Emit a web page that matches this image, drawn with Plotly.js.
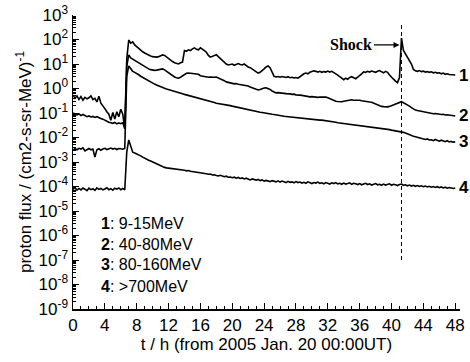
<!DOCTYPE html>
<html>
<head>
<meta charset="utf-8">
<script src="https://cdn.plot.ly/plotly-3.0.1.min.js"></script>
<style>html,body{margin:0;padding:0;background:#fff}#chart{width:470px;height:362px}</style>
</head>
<body>
<div id="chart"></div>
<script>
// time in hours from 2005 Jan. 20 00:00 UT (quarter-hour samples)
const hours = [
0,0.25,0.5,0.75,1,1.25,1.5,1.75,2,2.25,2.5,2.75,3,3.25,3.5,3.75,4,4.25,4.5,4.75,
5,5.25,5.5,5.75,6,6.25,6.5,6.75,7,7.25,7.5,7.75,8,8.25,8.5,8.75,9,9.25,9.5,9.75,
10,10.25,10.5,10.75,11,11.25,11.5,11.75,12,12.25,12.5,12.75,13,13.25,13.5,13.75,14,14.25,14.5,14.75,
15,15.25,15.5,15.75,16,16.25,16.5,16.75,17,17.25,17.5,17.75,18,18.25,18.5,18.75,19,19.25,19.5,19.75,
20,20.25,20.5,20.75,21,21.25,21.5,21.75,22,22.25,22.5,22.75,23,23.25,23.5,23.75,24,24.25,24.5,24.75,
25,25.25,25.5,25.75,26,26.25,26.5,26.75,27,27.25,27.5,27.75,28,28.25,28.5,28.75,29,29.25,29.5,29.75,
30,30.25,30.5,30.75,31,31.25,31.5,31.75,32,32.25,32.5,32.75,33,33.25,33.5,33.75,34,34.25,34.5,34.75,
35,35.25,35.5,35.75,36,36.25,36.5,36.75,37,37.25,37.5,37.75,38,38.25,38.5,38.75,39,39.25,39.5,39.75,
40,40.25,40.5,40.75,41,41.25,41.5,41.75,42,42.25,42.5,42.75,43,43.25,43.5,43.75,44,44.25,44.5,44.75,
45,45.25,45.5,45.75,46,46.25,46.5,46.75,47,47.25,47.5,47.75,48];

// log10 of proton flux, (cm2-s-sr-MeV)^-1
const log1_9to15MeV = [
-0.27,-0.40,-0.30,-0.45, -0.33,-0.48,-0.36,-0.42, -0.38,-0.30,-0.45,-0.40, -0.55,-0.32,-0.60,-0.70,
-0.82,-0.95,-1.05,-1.30, -0.98,-1.25,-0.95,-1.15, -0.85,-1.05,-1.65,1.20, 1.98,1.85,1.90,1.78,
1.70,1.62,1.55,1.50, 1.45,1.40,1.38,1.33, 1.30,1.28,1.28,1.30, 1.32,1.37,1.35,1.28,
1.22,1.15,1.10,1.05, 1.02,1.00,1.05,1.08, 1.55,1.52,1.58,1.55, 1.62,1.66,1.60,1.58,
1.66,1.62,1.55,1.48, 1.35,1.28,1.32,1.36, 1.38,1.30,1.22,1.12, 1.05,1.00,0.96,0.98,
1.00,0.95,0.97,1.02, 0.98,0.96,1.00,0.92, 0.88,0.85,0.80,0.74, 0.68,0.63,0.66,0.72,
0.80,0.88,0.92,0.85, 0.70,0.50,0.47,0.49, 0.46,0.49,0.47,0.45, 0.48,0.44,0.46,0.43,
0.45,0.42,0.48,0.55, 0.60,0.63,0.60,0.66, 0.68,0.72,0.70,0.67, 0.70,0.66,0.69,0.67,
0.71,0.67,0.70,0.66, 0.62,0.55,0.48,0.40, 0.36,0.42,0.38,0.45, 0.48,0.44,0.40,0.46,
0.52,0.60,0.68,0.66, 0.70,0.67,0.71,0.68, 0.66,0.70,0.73,0.68, 0.64,0.70,0.66,0.55,
0.45,0.38,0.30,0.24, 0.45,2.06,1.55,1.40, 1.24,1.10,1.00,0.78, 0.72,0.70,0.73,0.69,
0.71,0.67,0.69,0.66, 0.68,0.64,0.66,0.63, 0.64,0.60,0.63,0.58, 0.60,0.57,0.56,0.54,
0.55];

const log2_40to80MeV = [
-1.00,-1.05,-1.08,-1.04, -1.10,-1.06,-1.12,-1.15, -1.12,-1.16,-1.14,-1.18, -1.15,-1.20,-1.22,-1.25,
-1.30,-1.33,-1.38,-1.40, -1.42,-1.38,-1.44,-1.41, -1.43,-1.40,-1.62,0.90, 1.37,1.25,1.20,1.15,
1.10,1.04,0.98,0.93, 0.88,0.84,0.80,0.77, 0.75,0.74,0.75,0.77, 0.78,0.80,0.76,0.70,
0.64,0.58,0.52,0.47, 0.44,0.42,0.46,0.52, 0.58,0.62,0.63,0.62, 0.60,0.61,0.59,0.58,
0.52,0.50,0.48,0.47, 0.46,0.47,0.45,0.46, 0.47,0.44,0.40,0.36, 0.32,0.27,0.24,0.22,
0.21,0.19,0.20,0.17, 0.16,0.14,0.15,0.12, 0.10,0.06,0.03,0.00, -0.03,-0.06,-0.04,0.00,
0.02,0.03,0.01,-0.04, -0.10,-0.15,-0.18,-0.17, -0.19,-0.18,-0.20,-0.21, -0.20,-0.22,-0.24,-0.23,
-0.26,-0.25,-0.27,-0.28, -0.30,-0.31,-0.33,-0.34, -0.33,-0.35,-0.34,-0.36, -0.35,-0.34,-0.36,-0.35,
-0.38,-0.42,-0.46,-0.50, -0.52,-0.53,-0.55,-0.54, -0.52,-0.50,-0.48,-0.47, -0.46,-0.48,-0.47,-0.49,
-0.48,-0.50,-0.52,-0.53, -0.54,-0.55,-0.56,-0.60, -0.64,-0.68,-0.70,-0.73, -0.74,-0.76,-0.75,-0.73,
-0.70,-0.66,-0.62,-0.60, -0.58,-0.54,-0.58,-0.62, -0.67,-0.72,-0.78,-0.84, -0.88,-0.90,-0.92,-0.94,
-0.96,-0.98,-1.00,-0.99, -1.01,-1.03,-1.02,-1.04, -1.05,-1.06,-1.05,-1.08, -1.07,-1.09,-1.10,-1.10,
-1.12];

const log3_80to160MeV = [
-2.52,-2.46,-2.50,-2.44, -2.47,-2.42,-2.55,-2.48, -2.45,-2.50,-2.47,-2.80, -2.50,-2.46,-2.52,-2.47,
-2.44,-2.49,-2.46,-2.43, -2.47,-2.44,-2.49,-2.45, -2.46,-2.48,-2.45,0.50, 0.92,0.80,0.70,0.66,
0.62,0.56,0.50,0.45, 0.40,0.36,0.31,0.27, 0.22,0.18,0.14,0.10, 0.06,0.04,0.01,-0.02,
-0.04,-0.06,-0.08,-0.10, -0.12,-0.15,-0.18,-0.21, -0.24,-0.26,-0.28,-0.30, -0.33,-0.34,-0.36,-0.38,
-0.40,-0.43,-0.45,-0.47, -0.50,-0.52,-0.55,-0.57, -0.60,-0.61,-0.63,-0.64, -0.66,-0.67,-0.69,-0.70,
-0.72,-0.74,-0.76,-0.78, -0.80,-0.82,-0.83,-0.85, -0.87,-0.89,-0.90,-0.92, -0.94,-0.95,-0.97,-0.98,
-1.00,-1.01,-1.02,-1.04, -1.05,-1.06,-1.08,-1.09, -1.10,-1.11,-1.13,-1.14, -1.15,-1.16,-1.17,-1.18,
-1.19,-1.20,-1.20,-1.21, -1.22,-1.23,-1.23,-1.24, -1.25,-1.26,-1.27,-1.28, -1.29,-1.29,-1.30,-1.31,
-1.32,-1.34,-1.35,-1.37, -1.38,-1.40,-1.41,-1.43, -1.44,-1.45,-1.46,-1.47, -1.48,-1.50,-1.51,-1.52,
-1.53,-1.54,-1.55,-1.56, -1.57,-1.58,-1.58,-1.59, -1.60,-1.61,-1.63,-1.64, -1.65,-1.66,-1.67,-1.68,
-1.70,-1.71,-1.72,-1.73, -1.74,-1.76,-1.79,-1.82, -1.86,-1.90,-1.93,-1.95, -1.97,-1.99,-2.01,-2.03,
-2.05,-2.08,-2.06,-2.10, -2.09,-2.13,-2.08,-2.12, -2.15,-2.11,-2.14,-2.17, -2.13,-2.18,-2.16,-2.19,
-2.18];

const log4_above700MeV = [
-4.12,-4.05,-4.15,-4.08, -4.14,-4.06,-4.11,-4.17, -4.07,-4.13,-4.09,-4.16, -4.06,-4.12,-4.08,-4.14,
-4.10,-4.05,-4.13,-4.09, -4.15,-4.07,-4.11,-4.06, -4.13,-4.08,-4.14,-2.60, -2.10,-2.40,-2.60,-2.63,
-2.66,-2.70,-2.75,-2.80, -2.85,-2.89,-2.93,-2.96, -3.00,-3.04,-3.08,-3.12, -3.15,-3.18,-3.22,-3.24,
-3.25,-3.24,-3.27,-3.26, -3.29,-3.31,-3.30,-3.33, -3.34,-3.36,-3.35,-3.38, -3.39,-3.41,-3.40,-3.43,
-3.44,-3.46,-3.45,-3.48, -3.50,-3.49,-3.53,-3.52, -3.55,-3.57,-3.54,-3.58, -3.60,-3.58,-3.62,-3.61,
-3.64,-3.62,-3.66,-3.63, -3.67,-3.65,-3.69,-3.66, -3.70,-3.73,-3.69,-3.72, -3.74,-3.71,-3.76,-3.73,
-3.78,-3.75,-3.77,-3.80, -3.76,-3.79,-3.81,-3.77, -3.82,-3.78,-3.80,-3.84, -3.79,-3.83,-3.81,-3.85,
-3.80,-3.84,-3.82,-3.86, -3.83,-3.87,-3.81,-3.85, -3.88,-3.84,-3.86,-3.82, -3.87,-3.85,-3.89,-3.84,
-3.86,-3.90,-3.85,-3.88, -3.84,-3.89,-3.87,-3.91, -3.86,-3.90,-3.88,-3.85, -3.91,-3.87,-3.89,-3.92,
-3.88,-3.93,-3.90,-3.87, -3.92,-3.89,-3.94,-3.90, -3.88,-3.93,-3.91,-3.95, -3.90,-3.94,-3.92,-3.89,
-3.95,-3.91,-3.93,-3.96, -3.92,-3.90,-3.95,-3.93, -3.97,-3.94,-3.98,-3.95, -3.99,-3.96,-4.00,-3.97,
-4.01,-3.98,-4.02,-3.99, -4.03,-4.00,-4.04,-4.01, -4.05,-4.02,-4.06,-4.03, -4.07,-4.04,-4.06,-4.08,
-4.06];

const seriesLabels = ["1", "2", "3", "4"];
const channelNames = ["9-15MeV", "40-80MeV", "80-160MeV", ">700MeV"];
const yTickExponents = [-9, -8, -7, -6, -5, -4, -3, -2, -1, 0, 1, 2, 3];
const xTickLabels = ["0","4","8","12","16","20","24","28","32","36","40","44","48"];

// shock passage marker
const shockTime = 41.25;
const shockLineLog = [-7.0, 2.6];
const shockArrowLog = 1.78;

const logSeries = [log1_9to15MeV, log2_40to80MeV, log3_80to160MeV, log4_above700MeV];
const toFlux = arr => arr.map(v => Math.pow(10, v));

const traces = logSeries.map((s, i) => ({
  x: hours, y: toFlux(s), type: 'scatter', mode: 'lines',
  line: {color: '#000', width: 1.6}, name: seriesLabels[i], hoverinfo: 'skip'
}));
traces.push({
  x: [shockTime, shockTime], y: toFlux(shockLineLog), type: 'scatter', mode: 'lines',
  xaxis: 'x2', yaxis: 'y2',
  line: {color: '#000', width: 1, dash: '4px,3px'}, hoverinfo: 'skip'
});

// minor tick positions (2..9 x 10^n)
const yMinor = [];
yTickExponents.slice(0, -1).forEach(n => { for (let d = 2; d <= 9; d++) yMinor.push(d * Math.pow(10, n)); });
const xMinor = [];
for (let h = 0; h <= 48; h++) if (h % 4) xMinor.push(h);

const labelFont = {family: 'Liberation Sans, Arial, sans-serif', size: 17, color: '#000'};
const annotations = logSeries.map((s, i) => ({
  x: hours[hours.length - 1], y: s[s.length - 1], xref: 'x', yref: 'y',
  text: '<b>' + seriesLabels[i] + '</b>', showarrow: false, xanchor: 'left', xshift: 2,
  font: labelFont
}));
const legendY = [0.292, 0.221, 0.150, 0.078];
seriesLabels.forEach((l, i) => annotations.push({
  x: 0.066, y: legendY[i], xref: 'paper', yref: 'paper', xanchor: 'left', yanchor: 'middle',
  showarrow: false, text: '<b>' + l + '</b>: ' + channelNames[i],
  font: {family: 'Liberation Sans, Arial, sans-serif', size: 16, color: '#000'}
}));
annotations.push({
  x: shockTime, y: shockArrowLog, xref: 'x', yref: 'y', text: '<b>Shock</b>',
  showarrow: true, ax: -50, ay: 0, arrowhead: 2, arrowsize: 1, arrowwidth: 1.2,
  arrowcolor: '#000', standoff: 2,
  font: {family: 'Liberation Serif, Times New Roman, serif', size: 16, color: '#000'}
});

const xRange = [0, 48.6];
const yRange = [-9, 3];
const layout = {
  width: 470, height: 362,
  margin: {l: 73, r: 10, t: 15, b: 53},
  paper_bgcolor: '#fff', plot_bgcolor: '#fff',
  showlegend: false,
  font: {family: 'Liberation Sans, Arial, sans-serif', color: '#000', size: 17},
  xaxis: {
    range: xRange, tickmode: 'array', tickvals: xTickLabels.map(Number), ticktext: xTickLabels,
    ticks: 'inside', ticklen: 6, tickwidth: 1,
    tickcolor: '#000', showline: true, linecolor: '#000', linewidth: 1.5,
    showgrid: false, zeroline: false,
    tickfont: {size: 17},
    title: {text: 't / h (from 2005 Jan. 20 00:00UT)', font: {size: 17}, standoff: 4}
  },
  yaxis: {
    type: 'log', range: yRange, tickmode: 'array',
    tickvals: yTickExponents.map(n => Math.pow(10, n)),
    ticktext: yTickExponents.map(n => '10<sup>' + n + '</sup>'),
    ticks: 'inside', ticklen: 6, tickwidth: 1, tickcolor: '#000',
    showline: true, linecolor: '#000', linewidth: 1.5,
    showgrid: false, zeroline: false,
    tickfont: {size: 17},
    title: {text: 'proton flux / (cm2-s-sr-MeV)<sup>-1</sup>', font: {size: 17}, standoff: 2}
  },
  xaxis2: {
    overlaying: 'x', anchor: 'y2', range: xRange, tickmode: 'array', tickvals: xMinor,
    ticks: 'inside', ticklen: 3, tickwidth: 1, tickcolor: '#000',
    showticklabels: false, showline: false, showgrid: false, zeroline: false
  },
  yaxis2: {
    overlaying: 'y', anchor: 'x2', type: 'log', range: yRange, tickmode: 'array', tickvals: yMinor,
    ticks: 'inside', ticklen: 3, tickwidth: 1, tickcolor: '#000',
    showticklabels: false, showline: false, showgrid: false, zeroline: false
  },
  annotations: annotations
};

Plotly.newPlot('chart', traces, layout, {staticPlot: true, displayModeBar: false});
</script>
</body>
</html>
